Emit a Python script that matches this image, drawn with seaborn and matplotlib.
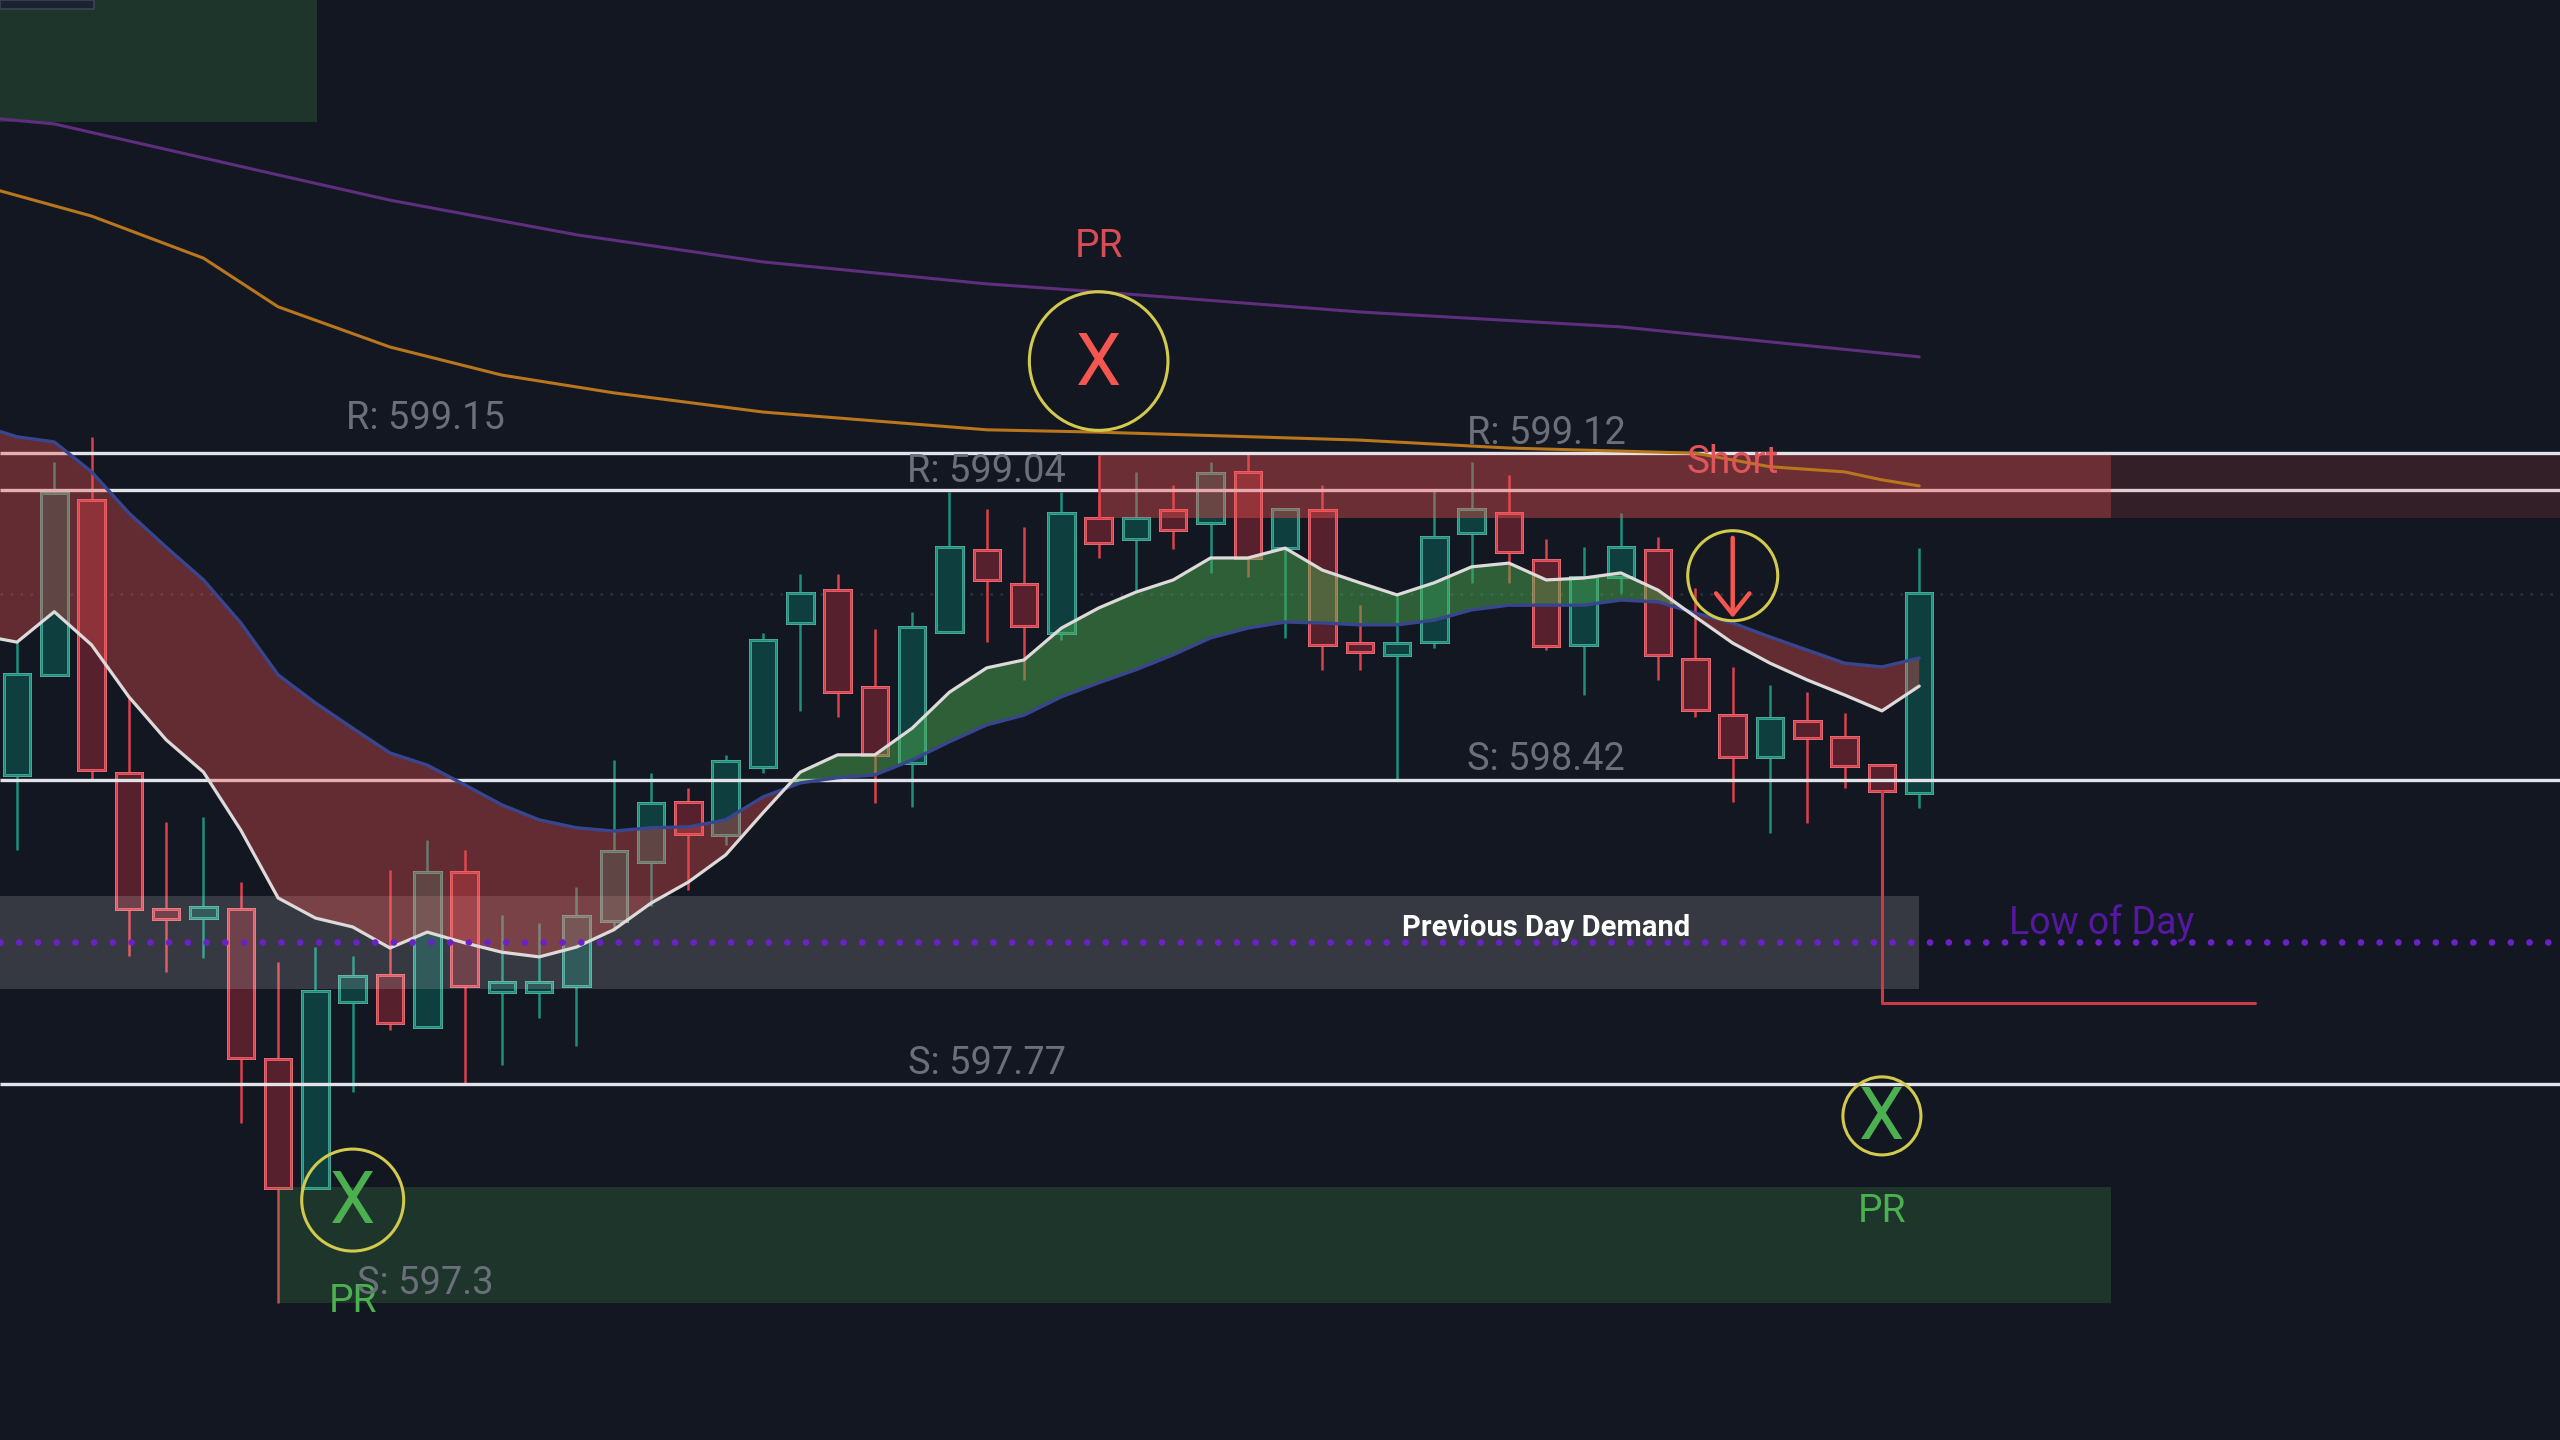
"""Candlestick chart with EMA cloud, supply/demand zones and PR markers."""

import matplotlib
matplotlib.use("Agg")

import numpy as np
import pandas as pd
import matplotlib.pyplot as plt
import seaborn as sns
from matplotlib.colors import to_rgba

BG = "#131722"
UP = "#1b907d"
DOWN = "#dc404c"
GREEN = "#4caf50"
YELLOW = "#d2ca4c"
LABEL = "#6a6f7a"

# candles
opens = [598.431, 598.645, 599.019, 598.435, 598.144, 598.125, 598.144, 597.824, 597.548, 597.946,
         598.003, 597.892, 598.224, 597.967, 597.967, 597.980, 598.119, 598.245, 598.373, 598.303,
         598.448, 598.756, 598.826, 598.619, 598.457, 598.737, 598.912, 598.839, 598.735, 598.980,
         598.936, 598.998, 598.970, 599.079, 598.916, 598.998, 598.713, 598.688, 598.715, 598.948,
         598.991, 598.891, 598.709, 598.854, 598.912, 598.679, 598.559, 598.469, 598.546, 598.512,
         598.452, 598.393]
closes = [598.647, 599.034, 598.442, 598.144, 598.123, 598.149, 597.826, 597.548, 597.969, 598.001,
          597.901, 598.224, 597.980, 597.988, 597.988, 598.130, 598.269, 598.371, 598.305, 598.461,
          598.720, 598.820, 598.608, 598.474, 598.747, 598.918, 598.848, 598.750, 598.991, 598.927,
          598.980, 598.955, 599.077, 598.895, 599.000, 598.709, 598.694, 598.713, 598.940, 599.000,
          598.908, 598.707, 598.854, 598.918, 598.688, 598.570, 598.469, 598.553, 598.510, 598.450,
          598.397, 598.820]
highs = [598.715, 599.100, 599.154, 598.598, 598.330, 598.341, 598.202, 598.031, 598.063, 598.044,
         598.228, 598.292, 598.271, 598.132, 598.115, 598.192, 598.463, 598.435, 598.403, 598.474,
         598.735, 598.861, 598.861, 598.743, 598.780, 599.036, 599.000, 598.961, 599.036, 599.030,
         599.079, 599.051, 599.100, 599.119, 599.000, 599.051, 598.794, 598.816, 599.040, 599.100,
         599.072, 598.936, 598.918, 598.991, 598.940, 598.831, 598.662, 598.623, 598.608, 598.564,
         598.452, 598.916]
lows = [598.271, 598.645, 598.420, 598.044, 598.010, 598.040, 597.687, 597.302, 597.548, 597.753,
        597.886, 597.892, 597.768, 597.811, 597.911, 597.852, 598.100, 598.151, 598.185, 598.281,
        598.435, 598.568, 598.555, 598.371, 598.363, 598.737, 598.715, 598.634, 598.720, 598.895,
        598.826, 598.914, 598.863, 598.854, 598.724, 598.656, 598.656, 598.420, 598.703, 598.842,
        598.842, 598.698, 598.602, 598.820, 598.634, 598.555, 598.373, 598.307, 598.328, 598.403,
        597.944, 598.360]

# EMA cloud, first value is the bar just left of the frame
ema_fast = [598.730, 598.715, 598.780, 598.709, 598.598, 598.506, 598.437, 598.313, 598.168, 598.125,
            598.106, 598.061, 598.095, 598.072, 598.052, 598.042, 598.063, 598.100, 598.157, 598.202,
            598.260, 598.350, 598.437, 598.474, 598.474, 598.531, 598.608, 598.660, 598.677, 598.745,
            598.788, 598.822, 598.848, 598.895, 598.895, 598.916, 598.869, 598.842, 598.816, 598.842,
            598.876, 598.884, 598.848, 598.852, 598.863, 598.826, 598.769, 598.713, 598.670, 598.634,
            598.602, 598.568, 598.621]
ema_slow = [599.179, 599.154, 599.143, 599.079, 598.991, 598.918, 598.848, 598.756, 598.645, 598.585,
            598.531, 598.478, 598.452, 598.410, 598.367, 598.335, 598.318, 598.311, 598.318, 598.320,
            598.335, 598.384, 598.414, 598.425, 598.431, 598.463, 598.502, 598.538, 598.559, 598.598,
            598.628, 598.656, 598.688, 598.724, 598.745, 598.758, 598.756, 598.752, 598.752, 598.762,
            598.784, 598.794, 598.794, 598.794, 598.805, 598.801, 598.777, 598.756, 598.726, 598.698,
            598.670, 598.662, 598.681]

# long moving averages, sampled at a few bars
ma_purple_bar = [-1, 1, 7, 10, 15, 20, 26, 29, 36, 43, 51]
ma_purple = [599.838, 599.823, 599.714, 599.660, 599.586, 599.528, 599.481, 599.464, 599.421, 599.389, 599.325]
ma_orange_bar = [-1, 2, 5, 7, 10, 13, 16, 20, 26, 29, 36, 40, 45, 47, 49, 50, 51]
ma_orange = [599.692, 599.626, 599.536, 599.432, 599.346, 599.286, 599.248, 599.207, 599.169, 599.164,
             599.147, 599.130, 599.119, 599.090, 599.079, 599.062, 599.049]

levels = [599.12, 599.04, 598.42, 597.77]
low_of_day = 598.074
last_price = 598.818

# text, bar, price
level_labels = [("R: 599.15", 10.94, 599.194), ("R: 599.04", 26, 599.079), ("R: 599.12", 41, 599.162),
                ("S: 598.42", 41, 598.465), ("S: 597.77", 26, 597.815), ("S: 597.3", 10.94, 597.344)]

sns.set_theme(style="dark")
plt.rcParams["font.family"] = ["Roboto", "DejaVu Sans"]

fig = plt.figure(figsize=(12.8, 7.2), dpi=200, facecolor=BG)
ax = fig.add_axes([0, 0, 1, 1], facecolor=BG)
ax.set_xlim(-0.456, 68.18)
ax.set_ylim(597.009, 600.088)
ax.grid(False)
ax.set_xticks([])
ax.set_yticks([])
for s in ax.spines.values():
    s.set_visible(False)

# candles
bars = np.arange(len(opens))
candles = pd.DataFrame({"bar": bars, "open": opens, "close": closes, "high": highs, "low": lows})
candles["up"] = candles["close"] >= candles["open"]
candles["colour"] = np.where(candles["up"], UP, DOWN)
body_fill = [to_rgba("#089981", 0.3) if u else to_rgba("#f23645", 0.3) for u in candles["up"]]
body_low = candles[["open", "close"]].min(axis=1)
body_height = (candles["close"] - candles["open"]).abs()

ax.vlines(candles["bar"], candles["low"], candles["high"], colors=candles["colour"], lw=0.9, zorder=2)
# solid background first so the wick does not show through the body
ax.bar(candles["bar"], body_height, bottom=body_low, width=0.71, color=BG, zorder=2.1)
ax.bar(candles["bar"], body_height, bottom=body_low, width=0.71, color=body_fill,
       edgecolor=list(candles["colour"]), linewidth=0.9, zorder=2.2)

# level lines
ax.hlines(levels, -0.456, 68.18, colors="#e2e3e8", lw=1.2, zorder=2.5)
ax.hlines(last_price, -0.456, 68.18, colors="#2b3140", lw=0.9, linestyles=(0, (1, 3)), zorder=1)

# zones
ax.fill_between([-0.456, 8.04], 599.827, 600.088, color=GREEN, alpha=0.2, lw=0, zorder=3)
ax.fill_between([7, 56.14], 597.302, 597.550, color=GREEN, alpha=0.2, lw=0, zorder=3)
ax.fill_between([29, 68.18], 598.980, 599.115, color="#ef5350", alpha=0.15, lw=0, zorder=3)
ax.fill_between([29, 56.14], 598.980, 599.115, color="#ef5350", alpha=0.3, lw=0, zorder=3)
ax.vlines(29, 598.980, 599.115, colors=DOWN, lw=0.9, zorder=3)
ax.fill_between([-0.456, 51], 597.973, 598.172, color="white", alpha=0.15, lw=0, zorder=3)
ax.fill_between([-0.456, 2.06], 600.069, 600.088, color="#1b2331", ec="#3a4458", lw=0.6, zorder=3)

# EMA cloud
ema = pd.DataFrame({"bar": np.arange(-1, len(opens)), "fast": ema_fast, "slow": ema_slow})
ax.fill_between(ema["bar"], ema["fast"], ema["slow"], where=ema["fast"] < ema["slow"],
                interpolate=True, color="#ef5350", alpha=0.36, lw=0, zorder=3)
ax.fill_between(ema["bar"], ema["fast"], ema["slow"], where=ema["fast"] >= ema["slow"],
                interpolate=True, color=GREEN, alpha=0.48, lw=0, zorder=3)
sns.lineplot(data=ema, x="bar", y="slow", ax=ax, color="#38458f", lw=1.2, zorder=4)
sns.lineplot(data=ema, x="bar", y="fast", ax=ax, color="#dedada", lw=1.15, zorder=4.2)

sns.lineplot(x=ma_purple_bar, y=ma_purple, ax=ax, color="#5f2e7e", lw=1.1, zorder=4)
sns.lineplot(x=ma_orange_bar, y=ma_orange, ax=ax, color="#b9761c", lw=1.1, zorder=4)

# low of day and the stop line
ax.hlines(low_of_day, -0.456, 68.18, colors="#6a22c8", lw=2.4, linestyles=(0, (0.01, 2.8)),
          capstyle="round", zorder=4.5)
ax.plot([50, 50, 60], [598.397, 597.944, 597.944], color="#d03848", lw=1.1, zorder=4.6)

# PR markers
ax.scatter([29], [599.316], s=2490, facecolors="none", edgecolors=YELLOW, lw=1.1, zorder=5)
ax.scatter([9], [597.522], s=1348, facecolors="none", edgecolors=YELLOW, lw=1.1, zorder=5)
ax.scatter([50], [597.702], s=789, facecolors="none", edgecolors=YELLOW, lw=1.1, zorder=5)
ax.scatter([46], [598.857], s=1050, facecolors="none", edgecolors=YELLOW, lw=1.1, zorder=5)
ax.annotate("", xy=(46, 598.767), xytext=(46, 598.938), zorder=5.2,
            arrowprops=dict(arrowstyle="->,head_length=0.75,head_width=0.6", color="#f4574f", lw=1.6,
                            shrinkA=0, shrinkB=0, mutation_scale=10))

ax.text(29, 599.307, "X", color="#f4574f", fontsize=26, ha="center", va="center", zorder=6)
ax.text(9, 597.515, "X", color=GREEN, fontsize=26, ha="center", va="center", zorder=6)
ax.text(50, 597.695, "X", color=GREEN, fontsize=26, ha="center", va="center", zorder=6)
ax.text(29, 599.561, "PR", color="#d84c56", fontsize=14, ha="center", va="center", zorder=6)
ax.text(9, 597.306, "PR", color=GREEN, fontsize=14, ha="center", va="center", zorder=6)
ax.text(50, 597.498, "PR", color=GREEN, fontsize=14, ha="center", va="center", zorder=6)

for text, bar, price in level_labels:
    ax.text(bar, price, text, color=LABEL, fontsize=13.7, ha="center", va="center", zorder=6)
ax.text(46, 599.100, "Short", color="#e0555a", fontsize=14, ha="center", va="center", zorder=6)
ax.text(41, 598.104, "Previous Day Demand", color="white", fontsize=10.5, fontweight="bold",
        ha="center", va="center", zorder=6)
ax.text(55.9, 598.115, "Low of Day", color="#5518a0", fontsize=13.5, ha="center", va="center", zorder=6)

plt.savefig("out.png", dpi=200, facecolor=BG)
plt.close()
